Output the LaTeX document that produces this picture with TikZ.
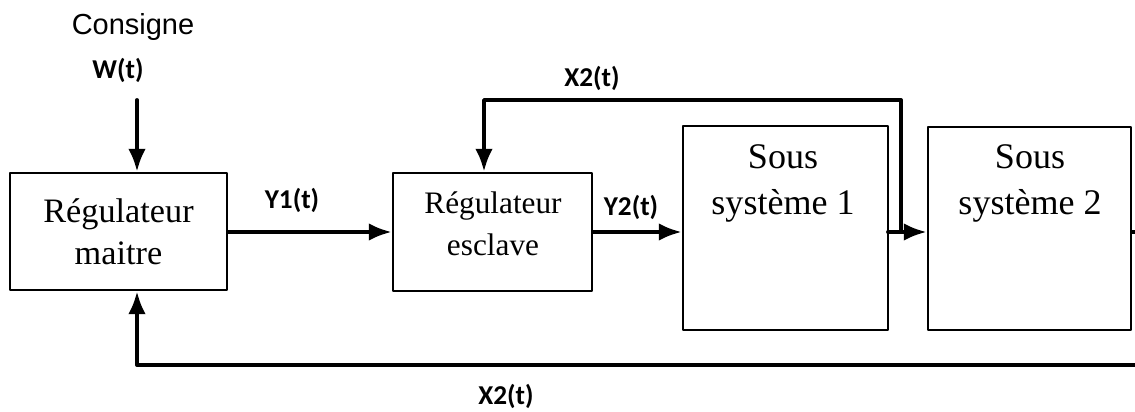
\documentclass[tikz,border=0pt]{standalone}
\usepackage{fontspec}
\setmainfont{Liberation Serif}
\newfontfamily\labelfont{Carlito}
\newfontfamily\consfont{Liberation Sans}
\usetikzlibrary{arrows.meta,positioning}
\tikzset{>={Latex[length=13pt,width=10pt]}}

\begin{document}
\begin{tikzpicture}[
	x=0.02cm, y=-0.02cm,
	line cap=round, line join=round,
	bloc/.style={draw, line width=1.5pt, inner sep=0pt},
	fleche/.style={line width=2.2pt,->},
	ligne/.style={line width=2.2pt},
	signal/.style={font=\labelfont\bfseries\fontsize{15.5}{18}\selectfont},
	gros/.style={align=center, font=\fontsize{19.5}{24}\selectfont},
	petit/.style={align=center, font=\fontsize{17.8}{24}\selectfont},
	sous/.style={align=center, font=\fontsize{20.5}{26.7}\selectfont, anchor=north}
]
	\useasboundingbox (0,0) rectangle (1135,412);

	% blocs
	\node[bloc, minimum width=217*0.02cm, minimum height=117*0.02cm] (maitre) at (118.5,231.5) {};
	\node[gros] (maitretxt) at (maitre.center) {R\'egulateur\\maitre};
	\node[bloc, minimum width=199*0.02cm, minimum height=118*0.02cm] (esclave) at (492.5,232) {};
	\node[petit] (esclavetxt) at (493,224) {R\'egulateur\\esclave};
	\node[bloc, minimum width=205*0.02cm, minimum height=204*0.02cm] (s1) at (785.5,228) {};
	\node[sous] (s1txt) at (783,138) {Sous\\syst\`eme 1};
	\node[bloc, minimum width=203*0.02cm, minimum height=203*0.02cm] (s2) at (1029.5,228.5) {};
	\node[sous] (s2txt) at (1030,138) {Sous\\syst\`eme 2};

	% points de passage
	\coordinate (wdep) at (137,100);
	\coordinate (y1) at (228,232);
	\coordinate (j1) at (888,232);
	\coordinate (j2) at (901,232);
	\coordinate (haut) at (484,100);
	\coordinate (sortie) at (1135,232);
	\coordinate (bas) at (1135,365);
	\coordinate (retour) at (137,365);

	% consigne
	\node[font=\consfont\fontsize{16.5}{20}\selectfont] (consigne) at (133,27) {Consigne};
	\node[signal] (w) at (118,70) {W(t)};
	\draw[fleche] (wdep) -- (wdep |- maitre.north);

	% chaine directe
	\draw[fleche] (y1) -- (y1 -| esclave.west);
	\node[signal] (y1txt) at (292,200) {Y1(t)};
	\draw[fleche] (esclave.east |- y1) -- (y1 -| s1.west);
	\node[signal] (y2txt) at (631,207) {Y2(t)};
	\draw[fleche] (j1) -- (j1 -| s2.west);
	\draw[ligne] (s2.east |- sortie) -- (sortie);

	% boucle interne
	\draw[fleche] (j2) |- (haut) -- (haut |- esclave.north);
	\node[signal] (x2haut) at (592,78) {X2(t)};

	% boucle externe
	\draw[fleche] (bas) -- (retour) -- (retour |- maitre.south);
	\node[signal] (x2bas) at (506,396) {X2(t)};
\end{tikzpicture}
\end{document}
